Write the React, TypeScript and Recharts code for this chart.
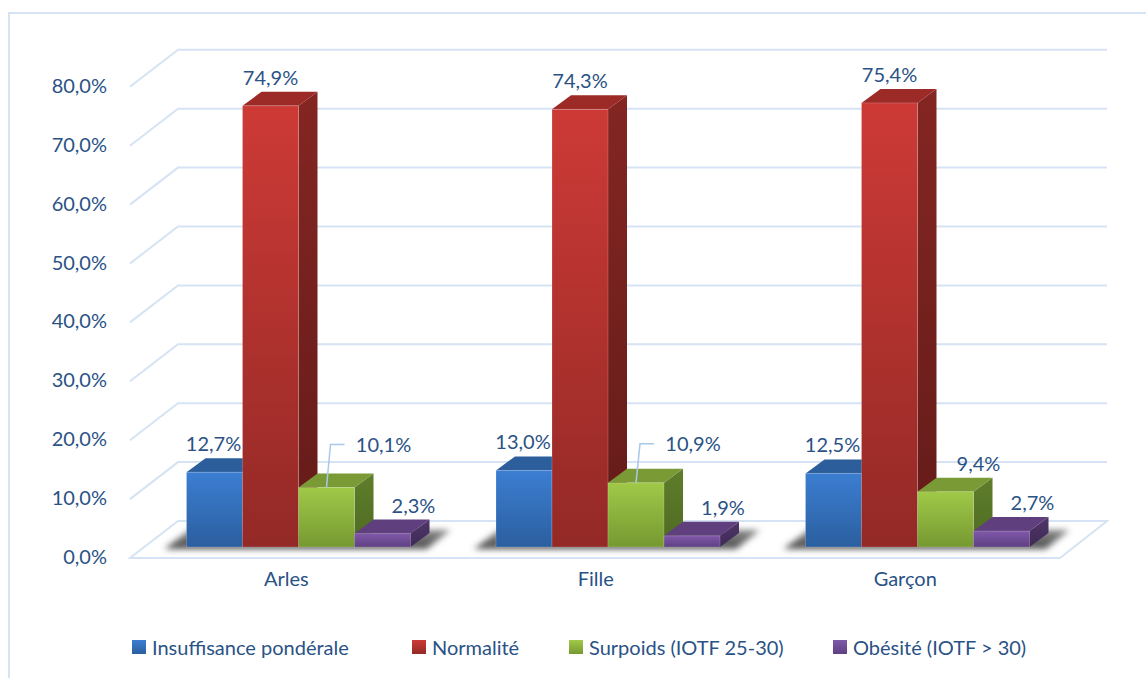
import { BarChart, Bar, XAxis, YAxis, CartesianGrid, Legend, LabelList } from 'recharts';

const CATEGORIES = ['Arles', 'Fille', 'Garçon'];
const INSUFFISANCE = [12.7, 13.0, 12.5];
const NORMALITE = [74.9, 74.3, 75.4];
const SURPOIDS = [10.1, 10.9, 9.4];
const OBESITE = [2.3, 1.9, 2.7];
const Y_TICKS = [0, 10, 20, 30, 40, 50, 60, 70, 80];

const data = CATEGORIES.map((name, i) => ({
  name,
  insuffisance: INSUFFISANCE[i],
  normalite: NORMALITE[i],
  surpoids: SURPOIDS[i],
  obesite: OBESITE[i],
}));

const TEXT = '#2a5285';
const GRID = '#d6e3f4';
const FONT = 'Lato, sans-serif';
const DEPTH_X = 19;
const DEPTH_Y = 14;

const SERIES = [
  { key: 'insuffisance', name: 'Insuffisance pondérale', top: '#3c7ed2', bottom: '#2b5f9f', roof: '#2c5e9b', side: '#24507f', sideEnd: '#1d4068', labelDx: -1 },
  { key: 'normalite', name: 'Normalité', top: '#cd3a36', bottom: '#932926', roof: '#9c2a27', side: '#842622', sideEnd: '#631b19', labelDx: 0 },
  { key: 'surpoids', name: 'Surpoids (IOTF 25-30)', top: '#a0c948', bottom: '#769931', roof: '#7a9a35', side: '#5f7e2b', sideEnd: '#4e6a22', labelDx: 33 },
  { key: 'obesite', name: 'Obésité (IOTF > 30)', top: '#8058aa', bottom: '#5f4082', roof: '#5f3f7e', side: '#4f3569', sideEnd: '#3f2a55', labelDx: 31 },
];

const fmt = (v: number) => v.toFixed(1).replace('.', ',') + '%';

const Grid3D = ({ x1, x2, y1, index }: any) => {
  const fx1 = x1 - 14.5;
  const fx2 = x2 - 13;
  const front = y1 + 11;
  const back = y1 - 26;
  const bx1 = x1 + 33.5;
  const bx2 = x2 + 34;
  const isFloor = index === 0 || Math.abs(y1 - 547) < 1;
  const points = isFloor
    ? `${fx2},${front} ${fx1},${front} ${bx1},${back} ${bx2},${back} ${fx2},${front}`
    : `${fx1},${front} ${bx1},${back} ${bx2},${back}`;
  return <polyline key={`g-${index}`} points={points} fill="none" stroke={GRID} strokeWidth={2} />;
};

const Bar3D = ({ x, y, width, height, s, withShadow }: any) => {
  const right = x + width;
  const base = y + height;
  return (
    <g>
      {withShadow && (
        <polygon
          points={`${x - 22},${base + 2} ${right * 1 + width * 3 + 16},${base + 2} ${x + width * 4 + 40},${base - 17} ${x + 3},${base - 17}`}
          fill="url(#floorShadow)"
          filter="url(#blur3)"
        />
      )}
      <polygon
        points={`${right},${y} ${right + DEPTH_X},${y - DEPTH_Y} ${right + DEPTH_X},${base - DEPTH_Y} ${right},${base}`}
        fill={`url(#side-${s.key})`}
      />
      <polygon
        points={`${x},${y} ${x + DEPTH_X},${y - DEPTH_Y} ${right + DEPTH_X},${y - DEPTH_Y} ${right},${y}`}
        fill={s.roof}
      />
      <rect x={x} y={y} width={width} height={height} fill={`url(#front-${s.key})`} stroke="#ffffff" strokeOpacity={0.18} />
    </g>
  );
};

const ValueLabel = ({ x, y, width, value, index, s }: any) => {
  const cx = x + width / 2;
  const leader = s.key === 'surpoids' && index < 2;
  if (leader) {
    return (
      <g>
        <polyline
          points={`${cx},${y} ${cx + 4},${y - 43 + (index === 1 ? 4 : 0)} ${cx + 18},${y - 43 + (index === 1 ? 4 : 0)}`}
          fill="none"
          stroke="#a9c8ea"
          strokeWidth={1.5}
        />
        <text x={cx + 57} y={y - 41 + (index === 1 ? 4 : 0)} textAnchor="middle" dominantBaseline="middle" fontFamily={FONT} fontSize={20} fill={TEXT}>
          {fmt(value)}
        </text>
      </g>
    );
  }
  return (
    <text x={cx + s.labelDx} y={y - 26} textAnchor="middle" dominantBaseline="middle" fontFamily={FONT} fontSize={20} fill={TEXT}>
      {fmt(value)}
    </text>
  );
};

const YTick = ({ x, y, payload }: any) => (
  <text x={107} y={y + 12} textAnchor="end" dominantBaseline="middle" fontFamily={FONT} fontSize={20} fill={TEXT}>
    {fmt(payload.value)}
  </text>
);

const XTick = ({ x, y, payload }: any) => (
  <text x={x - 13} y={y + 26} textAnchor="middle" dominantBaseline="middle" fontFamily={FONT} fontSize={20} fill={TEXT}>
    {payload.value}
  </text>
);

const LEGEND_LEFT = [132, 412, 569, 833];

const LegendRow = () => (
  <div style={{ position: 'relative', height: 30, width: 1146 }}>
    {SERIES.map((s, i) => (
      <div key={s.key} style={{ position: 'absolute', left: LEGEND_LEFT[i], top: 0, display: 'flex', alignItems: 'center', height: 30, whiteSpace: 'nowrap' }}>
        <span style={{ width: 14, height: 14, marginRight: 6, background: `linear-gradient(${s.top}, ${s.bottom})` }} />
        <span style={{ fontFamily: FONT, fontSize: 20, color: TEXT }}>{s.name}</span>
      </div>
    ))}
  </div>
);

export default function App() {
  return (
    <div style={{ position: 'absolute', left: 0, top: 0, width: 1146, height: 678, background: '#fff', overflow: 'hidden' }}>
      <div style={{ position: 'absolute', left: 8, top: 12, width: 1146, height: 678, borderLeft: `2px solid ${GRID}`, borderTop: `2px solid ${GRID}` }} />
      <div style={{ position: 'absolute', left: 0, top: 0 }}>
        <BarChart
          width={1146}
          height={678}
          data={data}
          margin={{ top: 75.8, right: 73, bottom: 51, left: 0 }}
          barCategoryGap={42}
          barGap={0}
        >
          <defs>
            <filter id="blur3" x="-20%" y="-50%" width="140%" height="200%">
              <feGaussianBlur stdDeviation="3" />
            </filter>
            <linearGradient id="floorShadow" x1="0" y1="0" x2="0" y2="1">
              <stop offset="0" stopColor="#8a8a8a" />
              <stop offset="1" stopColor="#4a4a4a" />
            </linearGradient>
            {SERIES.map(s => (
              <linearGradient key={s.key} id={`front-${s.key}`} x1="0" y1="0" x2="0" y2="1">
                <stop offset="0" stopColor={s.top} />
                <stop offset="1" stopColor={s.bottom} />
              </linearGradient>
            ))}
            {SERIES.map(s => (
              <linearGradient key={s.key} id={`side-${s.key}`} x1="0" y1="0" x2="0" y2="1">
                <stop offset="0" stopColor={s.side} />
                <stop offset="1" stopColor={s.sideEnd} />
              </linearGradient>
            ))}
          </defs>
          <CartesianGrid vertical={false} horizontal={(p: any) => <Grid3D {...p} />} />
          <XAxis dataKey="name" height={50} axisLine={false} tickLine={false} tick={<XTick />} interval={0} />
          <YAxis width={144.5} domain={[0, 80]} ticks={Y_TICKS} axisLine={false} tickLine={false} tick={<YTick />} interval={0} />
          <Legend height={30} content={<LegendRow />} wrapperStyle={{ top: 632, left: 0, width: 1146 }} />
          {SERIES.map((s, i) => (
            <Bar
              key={s.key}
              dataKey={s.key}
              name={s.name}
              isAnimationActive={false}
              shape={(p: any) => <Bar3D {...p} s={s} withShadow={i === 0} />}
            >
              <LabelList dataKey={s.key} content={(p: any) => <ValueLabel {...p} s={s} />} />
            </Bar>
          ))}
        </BarChart>
      </div>
    </div>
  );
}
